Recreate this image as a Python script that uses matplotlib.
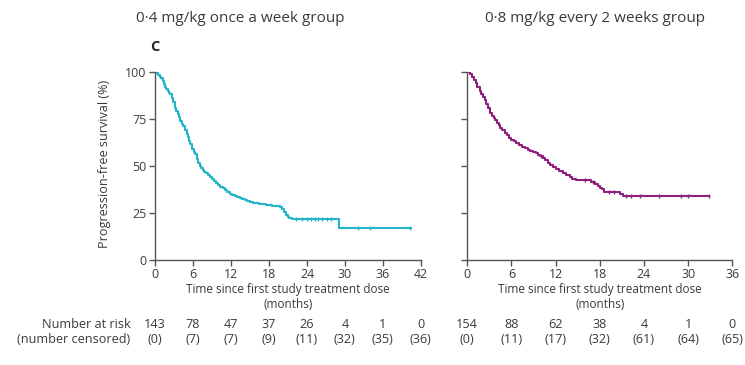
import numpy as np
import matplotlib.pyplot as plt

plt.rcParams['font.family'] = ['Open Sans', 'DejaVu Sans']

# group 1: 0.4 mg/kg once a week
t_left = [0, 0.3, 0.5, 0.8, 1.0, 1.2, 1.4, 1.6, 1.8, 2.0, 2.2, 2.4, 2.7, 2.9,
          3.1, 3.3, 3.6, 3.8, 4.0, 4.3, 4.5, 4.8, 5.0, 5.2, 5.4, 5.6, 5.8, 6.1,
          6.3, 6.6, 6.8, 7.1, 7.3, 7.6, 7.8, 8.1, 8.4, 8.7, 9.0, 9.3, 9.6, 10.0,
          10.3, 10.7, 11.0, 11.4, 11.8, 12.2, 12.6, 13.0, 13.4, 13.8, 14.2,
          14.6, 15.0, 15.5, 16.0, 16.5, 17.0, 17.5, 18.0, 18.5, 19.0, 19.7,
          20.0, 20.4, 20.7, 21.0, 21.2, 21.6, 29.0]
s_left = [100, 99.3, 98.6, 97.5, 96.5, 95, 93.5, 92, 91, 90, 89, 88, 86, 84,
          81, 79, 77.5, 76, 74, 72.5, 71, 69, 67, 65.5, 63.5, 61.5, 59, 57.5,
          56.5, 53.5, 51.5, 50, 49, 48, 47, 46, 45, 44, 43, 42, 41, 40,
          39, 38, 37, 36, 35, 34.5, 34, 33.5, 33, 32.5, 32,
          31.5, 31, 30.5, 30, 29.8, 29.5, 29.2, 29, 28.8, 28.5, 28,
          27, 25.5, 24, 23, 22.5, 21.5, 17]
end_left = 40.5
cens_left = [22.2, 23.2, 24.0, 24.6, 25.2, 25.8, 26.4, 27.2, 27.8, 32.0, 34.0, 40.3]

# group 2: 0.8 mg/kg every 2 weeks
t_right = [0, 0.4, 0.7, 1.0, 1.2, 1.4, 1.7, 1.9, 2.1, 2.4, 2.6, 2.9, 3.1, 3.4,
           3.6, 3.8, 4.0, 4.3, 4.5, 4.8, 5.1, 5.4, 5.7, 6.0, 6.3, 6.7, 7.0,
           7.4, 7.8, 8.2, 8.6, 9.0, 9.3, 9.6, 9.9, 10.3, 10.6, 11.0, 11.3,
           11.7, 12.1, 12.5, 13.0, 13.4, 13.9, 14.3, 14.8, 16.8, 17.4, 17.8,
           18.0, 18.3, 18.6, 20.8, 21.2]
s_right = [100, 99, 97.5, 95.5, 94, 92, 90, 88.5, 86.5, 85, 83, 81, 78, 76.5,
           75.5, 74.5, 73, 71.5, 70, 69, 67.5, 66.5, 65, 64, 63, 62, 61,
           60, 59.5, 58.5, 58, 57.5, 57, 56, 55.5, 54, 53, 51.5, 50.5,
           49.5, 48.5, 47.5, 46, 45, 44, 43, 42.5, 41.5, 40.5, 39.5,
           38.5, 37.5, 36, 35, 34]
end_right = 32.8
cens_right = [10.0, 16.0, 17.1, 19.2, 20.0, 21.6, 22.2, 23.5, 26.0, 29.0, 30.0, 32.8]

risk_left = [143, 78, 47, 37, 26, 4, 1, 0]
censored_left = [0, 7, 7, 9, 11, 32, 35, 36]
risk_right = [154, 88, 62, 38, 4, 1, 0]
censored_right = [0, 11, 17, 32, 61, 64, 65]

title_left = "0·4 mg/kg once a week group"
title_right = "0·8 mg/kg every 2 weeks group"
xlabel = "Time since first study treatment dose\n(months)"
ylabel = "Progression-free survival (%)"

cyan = "#22b4c8"
magenta = "#8e1f7e"
grey = "#555555"
txt = "#3a3a3a"


def surv_at(t, times, surv):
    idx = np.searchsorted(times, t, side='right') - 1
    return np.array(surv)[idx]


def draw_panel(ax, times, surv, end, cens, color, xmax, risk, censd):
    tt = list(times) + [end]
    ss = list(surv) + [surv[-1]]
    ax.step(tt, ss, where='post', color=color, lw=1.5)
    ax.plot(cens, surv_at(cens, times, surv), ls='none', marker='|',
            ms=3.5, mew=1.0, color=color)
    ax.set_xlim(0, xmax)
    ax.set_ylim(0, 100)
    ax.set_xticks(np.arange(0, xmax + 1, 6))
    ax.set_yticks([0, 25, 50, 75, 100])
    for s in ['top', 'right']:
        ax.spines[s].set_visible(False)
    for s in ['left', 'bottom']:
        ax.spines[s].set_color(grey)
        ax.spines[s].set_linewidth(1.0)
    ax.tick_params(colors=grey, labelcolor=txt, labelsize=8.9,
                   length=4, width=1.0, pad=2)
    ax.set_xlabel(xlabel, fontsize=8.5, color=txt, labelpad=1,
                  linespacing=1.25)
    xs = np.arange(0, xmax + 1, 6)
    for x, r, c in zip(xs, risk, censd):
        ax.text(x, -34.5, str(r), ha='center', va='center', fontsize=9.1,
                color=txt, clip_on=False)
        ax.text(x, -42.5, "({})".format(c), ha='center', va='center',
                fontsize=9.1, color=txt, clip_on=False)


fig = plt.figure(figsize=(7.45, 3.65), dpi=100)
ax1 = fig.add_axes([0.208, 0.288, 0.357, 0.515])
ax2 = fig.add_axes([0.627, 0.288, 0.356, 0.515])

draw_panel(ax1, t_left, s_left, end_left, cens_left, cyan, 42,
           risk_left, censored_left)
draw_panel(ax2, t_right, s_right, end_right, cens_right, magenta, 36,
           risk_right, censored_right)
ax2.set_yticklabels([])

ax1.set_ylabel(ylabel, fontsize=9.1, color=txt)
ax1.yaxis.set_label_coords(-0.165, 0.51)

fig.text(240 / 745, 1 - 18 / 365, title_left, ha='center', va='center',
         fontsize=11, color=txt)
fig.text(595 / 745, 1 - 18 / 365, title_right, ha='center', va='center',
         fontsize=11, color=txt)
fig.text(150 / 745, 1 - 47 / 365, "C", ha='left', va='center',
         fontsize=10.5, fontweight='bold', color='#222222')

ax1.text(-3.9, -34.5, "Number at risk", ha='right', va='center',
         fontsize=9.1, color=txt, clip_on=False)
ax1.text(-3.9, -42.5, "(number censored)", ha='right', va='center',
         fontsize=9.1, color=txt, clip_on=False)

fig.savefig("out.png", dpi=100)
